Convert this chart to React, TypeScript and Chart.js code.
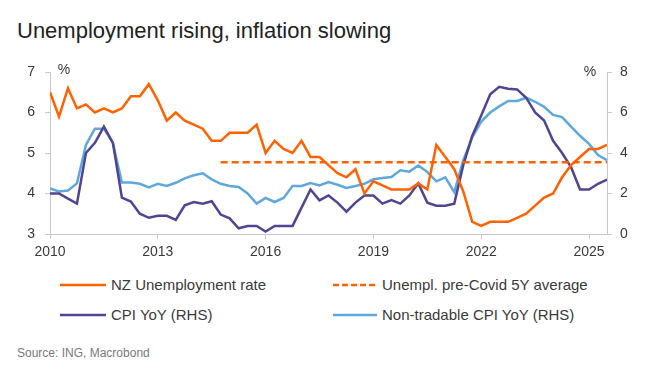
import React, { useEffect, useRef } from "react";
import { Chart, registerables } from "chart.js";

Chart.register(...registerables);

// Quarter-end observations (2009Q4 ends at 2010.0)
const quarters = [
  "2009Q4",
  "2010Q1", "2010Q2", "2010Q3", "2010Q4",
  "2011Q1", "2011Q2", "2011Q3", "2011Q4",
  "2012Q1", "2012Q2", "2012Q3", "2012Q4",
  "2013Q1", "2013Q2", "2013Q3", "2013Q4",
  "2014Q1", "2014Q2", "2014Q3", "2014Q4",
  "2015Q1", "2015Q2", "2015Q3", "2015Q4",
  "2016Q1", "2016Q2", "2016Q3", "2016Q4",
  "2017Q1", "2017Q2", "2017Q3", "2017Q4",
  "2018Q1", "2018Q2", "2018Q3", "2018Q4",
  "2019Q1", "2019Q2", "2019Q3", "2019Q4",
  "2020Q1", "2020Q2", "2020Q3", "2020Q4",
  "2021Q1", "2021Q2", "2021Q3", "2021Q4",
  "2022Q1", "2022Q2", "2022Q3", "2022Q4",
  "2023Q1", "2023Q2", "2023Q3", "2023Q4",
  "2024Q1", "2024Q2", "2024Q3", "2024Q4",
  "2025Q1", "2025Q2",
];

const unemployment = [
  6.5, 5.9, 6.6, 6.1, 6.2, 6.0, 6.1, 6.0, 6.1, 6.4,
  6.4, 6.7, 6.3, 5.8, 6.0, 5.8, 5.7, 5.6, 5.3, 5.3,
  5.5, 5.5, 5.5, 5.7, 5.0, 5.3, 5.1, 5.0, 5.3, 4.9,
  4.9, 4.7, 4.5, 4.4, 4.6, 4.0, 4.3, 4.2, 4.1, 4.1,
  4.1, 4.25, 4.1, 5.2, 4.9, 4.6, 4.05, 3.3, 3.2, 3.3,
  3.3, 3.3, 3.4, 3.5, 3.7, 3.9, 4.0, 4.4, 4.7, 4.9,
  5.1, 5.1, 5.2,
];

const cpiYoY = [
  2.0, 2.0, 1.75, 1.5, 4.0, 4.5, 5.3, 4.5, 1.8, 1.6,
  1.0, 0.8, 0.9, 0.9, 0.7, 1.42, 1.58, 1.5, 1.62, 0.96,
  0.77, 0.28, 0.39, 0.4, 0.12, 0.4, 0.4, 0.4, 1.3, 2.2,
  1.66, 1.9, 1.55, 1.1, 1.55, 1.9, 1.9, 1.5, 1.67, 1.5,
  1.9, 2.5, 1.55, 1.4, 1.4, 1.5, 3.4, 4.85, 5.85, 6.9,
  7.27, 7.17, 7.14, 6.73, 6.0, 5.6, 4.6, 4.0, 3.3, 2.2,
  2.2, 2.48, 2.69,
];

const nonTradableCpiYoY = [
  2.25, 2.1, 2.15, 2.5, 4.4, 5.2, 5.2, 4.5, 2.54, 2.54,
  2.48, 2.3, 2.48, 2.37, 2.53, 2.75, 2.9, 3.0, 2.7, 2.48,
  2.37, 2.32, 2.0, 1.5, 1.78, 1.58, 1.78, 2.37, 2.37, 2.52,
  2.4, 2.56, 2.43, 2.27, 2.37, 2.48, 2.7, 2.76, 2.81, 3.15,
  3.08, 3.38, 3.06, 2.6, 2.8, 2.07, 3.63, 4.77, 5.55, 6.0,
  6.3, 6.57, 6.57, 6.73, 6.53, 6.28, 5.88, 5.77, 5.3, 4.85,
  4.45, 3.9, 3.65,
];

const preCovidAverage = 4.77;
const preCovidAverageFrom = "2014Q3";

const xTickYears = [2010, 2013, 2016, 2019, 2022, 2025];
const leftTicks = [3, 4, 5, 6, 7];
const rightTicks = [0, 2, 4, 6, 8];

const TITLE = "Unemployment rising, inflation slowing";
const SOURCE = "Source: ING, Macrobond";

const ORANGE = "#ff6200";
const PURPLE = "#4f4593";
const BLUE = "#5fa8dc";
const AXIS = "#c9c9c9";
const TEXT = "#3a3a3a";
const FONT = "'Liberation Sans', Arial, sans-serif";

const quarterToX = (q: string) => Number(q.slice(0, 4)) + Number(q.slice(5)) / 4;

const toPoints = (vals: (number | null)[]) =>
  quarters.map((q, i) => ({ x: quarterToX(q), y: vals[i] }));

const avgFromIdx = quarters.indexOf(preCovidAverageFrom);
const preCovidLine = quarters.map((_, i) => (i >= avgFromIdx ? preCovidAverage : null));

const legendItems = [
  { label: "NZ Unemployment rate", color: ORANGE, dashed: false, left: 60, top: 275, w: 46 },
  { label: "Unempl. pre-Covid 5Y average", color: ORANGE, dashed: true, left: 333, top: 275, w: 44 },
  { label: "CPI YoY (RHS)", color: PURPLE, dashed: false, left: 60, top: 305, w: 46 },
  { label: "Non-tradable CPI YoY (RHS)", color: BLUE, dashed: false, left: 333, top: 305, w: 44 },
];

export default function App() {
  const ref = useRef<HTMLCanvasElement | null>(null);

  useEffect(() => {
    if (!ref.current) return;
    const unitPlugin = {
      id: "unitLabels",
      afterDraw(chart: any) {
        const { ctx, chartArea } = chart;
        ctx.save();
        ctx.fillStyle = TEXT;
        ctx.font = `14px ${FONT}`;
        ctx.textAlign = "center";
        ctx.textBaseline = "middle";
        ctx.fillText("%", chartArea.left + 14, chartArea.top - 2);
        ctx.fillText("%", chartArea.right - 17, chartArea.top);
        ctx.restore();
      },
    };

    const axisCommon = {
      grid: {
        display: true,
        drawOnChartArea: false,
        drawTicks: true,
        tickLength: 5,
        color: AXIS,
      },
      border: { display: true, color: AXIS, width: 1 },
    };

    const chart = new Chart(ref.current, {
      type: "line",
      data: {
        datasets: [
          {
            label: "NZ Unemployment rate",
            data: toPoints(unemployment),
            yAxisID: "y",
            borderColor: ORANGE,
            backgroundColor: ORANGE,
            borderWidth: 2.5,
            pointRadius: 0,
            tension: 0,
          },
          {
            label: "Unempl. pre-Covid 5Y average",
            data: toPoints(preCovidLine),
            yAxisID: "y",
            borderColor: ORANGE,
            backgroundColor: ORANGE,
            borderWidth: 2.5,
            borderDash: [7, 4],
            pointRadius: 0,
            spanGaps: false,
          },
          {
            label: "CPI YoY (RHS)",
            data: toPoints(cpiYoY),
            yAxisID: "y1",
            borderColor: PURPLE,
            backgroundColor: PURPLE,
            borderWidth: 2.5,
            pointRadius: 0,
            tension: 0,
          },
          {
            label: "Non-tradable CPI YoY (RHS)",
            data: toPoints(nonTradableCpiYoY),
            yAxisID: "y1",
            borderColor: BLUE,
            backgroundColor: BLUE,
            borderWidth: 2.5,
            pointRadius: 0,
            tension: 0,
          },
        ],
      },
      options: {
        responsive: false,
        animation: false,
        devicePixelRatio: 1,
        layout: { padding: { top: 72, left: 0, right: 0, bottom: 0 } },
        plugins: {
          legend: { display: false },
          tooltip: { enabled: false },
          title: { display: false },
        },
        scales: {
          x: {
            type: "linear",
            min: 2010,
            max: 2025.5,
            ...axisCommon,
            afterBuildTicks: (s: any) => {
              s.ticks = xTickYears.map((v) => ({ value: v }));
            },
            afterFit: (s: any) => {
              s.height = 31;
            },
            ticks: {
              color: TEXT,
              font: { family: FONT, size: 14 },
              padding: 5,
              maxRotation: 0,
              autoSkip: false,
              callback: (v: any) => String(v),
            },
          },
          y: {
            type: "linear",
            position: "left",
            min: 3,
            max: 7,
            ...axisCommon,
            afterBuildTicks: (s: any) => {
              s.ticks = leftTicks.map((v) => ({ value: v }));
            },
            afterFit: (s: any) => {
              s.width = 50;
            },
            ticks: {
              color: TEXT,
              font: { family: FONT, size: 14 },
              padding: 10,
              callback: (v: any) => String(v),
            },
          },
          y1: {
            type: "linear",
            position: "right",
            min: 0,
            max: 8,
            ...axisCommon,
            afterBuildTicks: (s: any) => {
              s.ticks = rightTicks.map((v) => ({ value: v }));
            },
            afterFit: (s: any) => {
              s.width = 46;
            },
            ticks: {
              color: TEXT,
              font: { family: FONT, size: 14 },
              padding: 8,
              callback: (v: any) => String(v),
            },
          },
        },
      },
      plugins: [unitPlugin],
    } as any);

    return () => chart.destroy();
  }, []);

  return (
    <div
      style={{
        position: "absolute",
        left: 0,
        top: 0,
        width: 653,
        height: 373,
        background: "#ffffff",
        fontFamily: FONT,
        overflow: "hidden",
      }}
    >
      <div
        style={{
          position: "absolute",
          left: 17,
          top: 18,
          fontSize: 22,
          lineHeight: "26px",
          color: "#222222",
          whiteSpace: "nowrap",
        }}
      >
        {TITLE}
      </div>
      <canvas
        ref={ref}
        width={653}
        height={265}
        style={{ position: "absolute", left: 0, top: 0, width: 653, height: 265 }}
      />
      {legendItems.map((it) => (
        <div
          key={it.label}
          style={{
            position: "absolute",
            left: it.left,
            top: it.top,
            height: 20,
            display: "flex",
            alignItems: "center",
            whiteSpace: "nowrap",
          }}
        >
          <svg width={it.w} height={6} style={{ display: "block" }}>
            <line
              x1={0}
              y1={3}
              x2={it.w}
              y2={3}
              stroke={it.color}
              strokeWidth={2.5}
              strokeDasharray={it.dashed ? "6 3" : undefined}
            />
          </svg>
          <span style={{ marginLeft: 5, fontSize: 15, color: TEXT, lineHeight: "20px" }}>
            {it.label}
          </span>
        </div>
      ))}
      <div
        style={{
          position: "absolute",
          left: 17,
          top: 345,
          fontSize: 12,
          lineHeight: "16px",
          color: "#7a7a7a",
          whiteSpace: "nowrap",
        }}
      >
        {SOURCE}
      </div>
    </div>
  );
}
